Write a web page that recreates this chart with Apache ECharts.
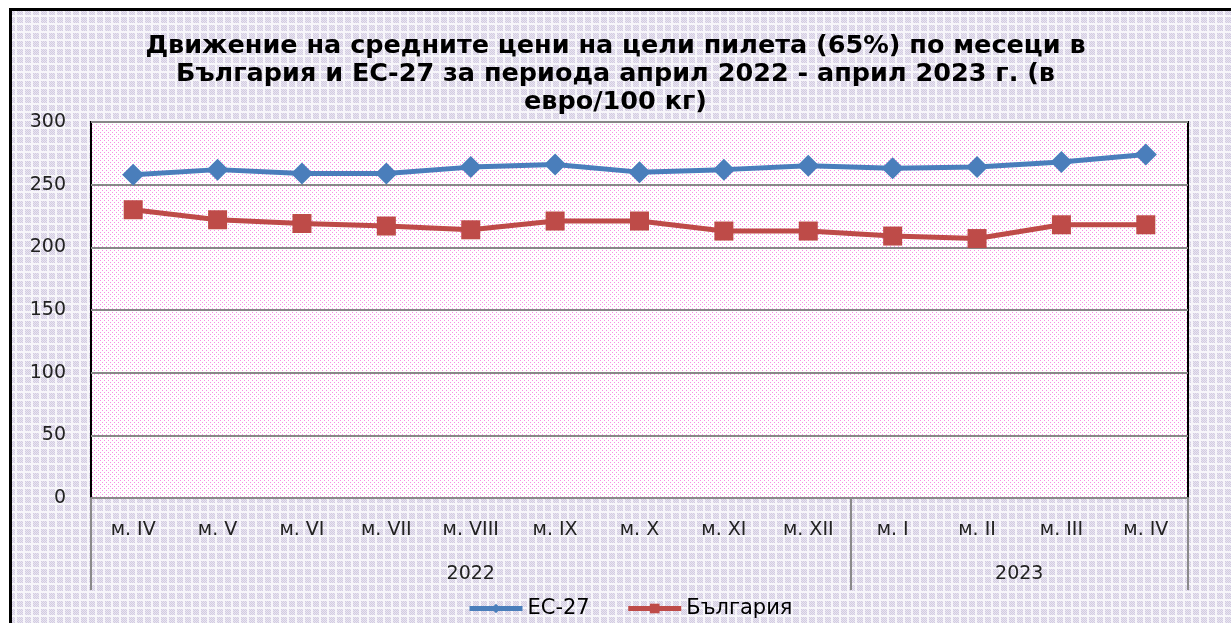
<!DOCTYPE html>
<html>
<head>
<meta charset="utf-8">
<script src="https://cdn.jsdelivr.net/npm/echarts@6/dist/echarts.min.js"></script>
<style>
html,body{margin:0;padding:0;background:#fff;}
#main{width:1231px;height:623px;}
</style>
</head>
<body>
<div id="main"></div>
<script>
// данни
var months = ['м. IV','м. V','м. VI','м. VII','м. VIII','м. IX','м. X','м. XI','м. XII','м. I','м. II','м. III','м. IV'];
var ec27 = [258, 262, 259, 259, 264, 266, 260, 262, 265, 263, 264, 268, 274];
var bulgaria = [230, 222, 219, 217, 214, 221, 221, 213, 213, 209, 207, 218, 218];
var years = ['2022', '2023'];
var yearSpans = [9, 4];
var yMin = 0, yMax = 300, yStep = 50;

// граници и центрове на годините
var bounds = [0], centers = [];
for (var i = 0; i < yearSpans.length; i++) {
	centers.push(bounds[i] + yearSpans[i] / 2);
	bounds.push(bounds[i] + yearSpans[i]);
}

// фон на диаграмата - лилава мрежа
function outerPattern(){
	var c = document.createElement('canvas');
	c.width = 8; c.height = 8;
	var g = c.getContext('2d');
	g.fillStyle = '#f7f6fa';
	g.fillRect(0,0,8,8);
	g.fillStyle = '#e8e4f0';
	g.fillRect(1,1,6,6);
	g.fillStyle = '#d3cce2';
	for (var y = 1; y < 7; y++) {
		for (var x = 1; x < 7; x++) {
			if ((x + y) % 2 == 0) g.fillRect(x, y, 1, 1);
		}
	}
	return c;
}
// фон на графиката - розови точки
function plotPattern(){
	var c = document.createElement('canvas');
	c.width = 4; c.height = 4;
	var g = c.getContext('2d');
	g.fillStyle = '#ffffff';
	g.fillRect(0,0,4,4);
	g.fillStyle = '#f78fe4';
	g.fillRect(0,0,1,1);
	g.fillRect(2,2,1,1);
	return c;
}

var chart = echarts.init(document.getElementById('main'));
var option = {
	backgroundColor: {image: outerPattern(), repeat: 'repeat'},
	animation: false,
	title: {
		text: 'Движение на средните цени на цели пилета (65%) по месеци в\nБългария и ЕС-27 за периода април 2022 - април 2023 г. (в\nевро/100 кг)',
		left: 'center',
		top: 32,
		padding: 0,
		textStyle: {
			fontFamily: 'DejaVu Sans',
			fontWeight: 'bold',
			fontSize: 25.5,
			lineHeight: 28,
			color: '#000'
		}
	},
	legend: {
		data: ['ЕС-27', 'България'],
		left: 467,
		top: 598,
		padding: 0,
		itemWidth: 53,
		itemHeight: 12,
		itemGap: 36,
		lineStyle: {width: 5},
		textStyle: {fontFamily: 'DejaVu Sans', fontSize: 21, color: '#000'}
	},
	grid: {
		left: 91,
		right: 43,
		top: 122,
		bottom: 125,
		show: true,
		backgroundColor: {image: plotPattern(), repeat: 'repeat'},
		borderColor: '#000',
		borderWidth: 2
	},
	xAxis: [{
		type: 'category',
		data: months,
		boundaryGap: true,
		axisLine: {lineStyle: {color: '#8a8a8a', width: 2}},
		axisTick: {show: false},
		axisLabel: {
			margin: 23,
			fontFamily: 'DejaVu Sans',
			fontSize: 19,
			color: '#222'
		}
	}, {
		type: 'value',
		min: 0,
		max: bounds[bounds.length - 1],
		position: 'bottom',
		axisLine: {show: false},
		splitLine: {show: false},
		axisTick: {
			show: true,
			customValues: bounds,
			length: 92,
			lineStyle: {color: '#8a8a8a', width: 2}
		},
		axisLabel: {
			customValues: centers,
			margin: 67,
			fontFamily: 'DejaVu Sans',
			fontSize: 19,
			color: '#222',
			formatter: function(v){
				for (var i = 0; i < centers.length; i++) {
					if (Math.abs(centers[i] - v) < 0.01) return years[i];
				}
				return '';
			}
		}
	}],
	yAxis: {
		type: 'value',
		min: yMin,
		max: yMax,
		interval: yStep,
		axisLine: {show: false},
		axisTick: {show: false},
		splitLine: {lineStyle: {color: '#888', width: 2}},
		axisLabel: {
			margin: 25,
			fontFamily: 'DejaVu Sans',
			fontSize: 19,
			color: '#222'
		}
	},
	series: [{
		name: 'ЕС-27',
		type: 'line',
		data: ec27,
		symbol: 'diamond',
		symbolSize: 22,
		color: '#4a7ebb',
		lineStyle: {width: 5, color: '#4a7ebb'},
		itemStyle: {color: '#4a7ebb'}
	}, {
		name: 'България',
		type: 'line',
		data: bulgaria,
		symbol: 'rect',
		symbolSize: 19,
		color: '#be4b48',
		lineStyle: {width: 5, color: '#be4b48'},
		itemStyle: {color: '#be4b48'}
	}],
	graphic: [
		{type: 'rect', shape: {x: 0, y: 0, width: 10, height: 623}, style: {fill: '#fff'}},
		{type: 'rect', shape: {x: 0, y: 0, width: 1231, height: 8}, style: {fill: '#fff'}},
		{type: 'rect', shape: {x: 10.5, y: 9.5, width: 1260, height: 700}, style: {fill: null, stroke: '#000', lineWidth: 3}}
	]
};
chart.setOption(option);
</script>
</body>
</html>
